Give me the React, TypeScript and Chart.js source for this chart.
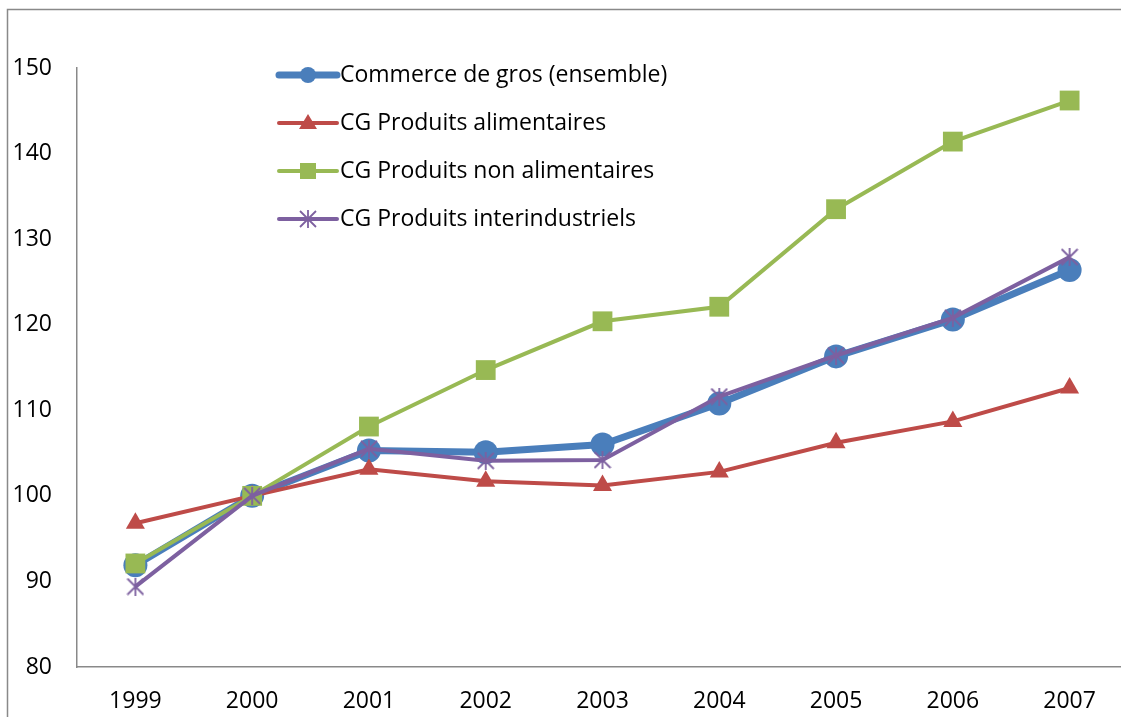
import React, { useEffect, useRef } from "react";
import { Chart, registerables } from "chart.js";

Chart.register(...registerables);

const years = ["1999", "2000", "2001", "2002", "2003", "2004", "2005", "2006", "2007"];
const ensemble = [91.9, 100, 105.3, 105.1, 106.0, 110.8, 116.3, 120.6, 126.4];
const alimentaires = [96.8, 100, 103.1, 101.7, 101.2, 102.8, 106.2, 108.7, 112.6];
const nonAlimentaires = [92.1, 100, 108.1, 114.7, 120.4, 122.1, 133.5, 141.4, 146.2];
const interindustriels = [89.4, 100, 105.5, 104.1, 104.2, 111.6, 116.4, 120.8, 127.9];
const seriesNames = [
  "Commerce de gros (ensemble)",
  "CG Produits alimentaires",
  "CG Produits non alimentaires",
  "CG Produits interindustriels",
];
const yMin = 80;
const yMax = 150;
const yStep = 10;

const BLUE = "#4A7EBB";
const RED = "#BE4B48";
const GREEN = "#98B954";
const PURPLE = "#7D60A0";
const AXIS = "#898989";
const FONT = "'Open Sans', 'Liberation Sans', sans-serif";

function makeStar(color: string, size: number) {
  const c = document.createElement("canvas");
  c.width = size;
  c.height = size;
  const ctx = c.getContext("2d")!;
  ctx.strokeStyle = color;
  ctx.lineWidth = 1.8;
  const m = 1;
  ctx.beginPath();
  ctx.moveTo(m, m);
  ctx.lineTo(size - m, size - m);
  ctx.moveTo(size - m, m);
  ctx.lineTo(m, size - m);
  ctx.moveTo(size / 2, 0);
  ctx.lineTo(size / 2, size);
  ctx.stroke();
  return c;
}

export default function App() {
  const ref = useRef<HTMLCanvasElement>(null);
  useEffect(() => {
    if (!ref.current) return;
    const star = makeStar(PURPLE, 18);
    const legendStar = makeStar(PURPLE, 18);

    const frame = {
      id: "frame",
      beforeDraw(chart: any) {
        const ctx = chart.ctx;
        ctx.save();
        ctx.fillStyle = "#ffffff";
        ctx.fillRect(0, 0, chart.width, chart.height);
        ctx.strokeStyle = AXIS;
        ctx.lineWidth = 1.5;
        ctx.beginPath();
        ctx.moveTo(7.5, chart.height + 5);
        ctx.lineTo(7.5, 9.5);
        ctx.lineTo(chart.width + 5, 9.5);
        ctx.stroke();
        ctx.restore();
      },
    };

    const legendPlugin = {
      id: "customLegend",
      afterDraw(chart: any) {
        const ctx = chart.ctx;
        const x0 = 279;
        const x1 = 337;
        const xm = 308;
        const rows = [75, 123, 171, 219];
        const specs = [
          { color: BLUE, width: 7, marker: "circle" },
          { color: RED, width: 4, marker: "triangle" },
          { color: GREEN, width: 4, marker: "square" },
          { color: PURPLE, width: 4, marker: "star" },
        ];
        ctx.save();
        specs.forEach((s, i) => {
          const y = rows[i];
          ctx.strokeStyle = s.color;
          ctx.fillStyle = s.color;
          ctx.lineWidth = s.width;
          ctx.lineCap = "round";
          ctx.beginPath();
          ctx.moveTo(x0, y);
          ctx.lineTo(x1, y);
          ctx.stroke();
          if (s.marker === "circle") {
            ctx.beginPath();
            ctx.arc(xm, y, 8, 0, Math.PI * 2);
            ctx.fill();
          } else if (s.marker === "triangle") {
            ctx.beginPath();
            ctx.moveTo(xm, y - 9);
            ctx.lineTo(xm + 9, y + 6);
            ctx.lineTo(xm - 9, y + 6);
            ctx.closePath();
            ctx.fill();
          } else if (s.marker === "square") {
            ctx.fillRect(xm - 8, y - 8, 16, 16);
          } else {
            ctx.drawImage(legendStar, xm - 9, y - 9);
          }
          ctx.fillStyle = "#000";
          ctx.font = `23px ${FONT}`;
          ctx.textBaseline = "middle";
          ctx.textAlign = "left";
          ctx.fillText(seriesNames[i], 340, y);
        });
        ctx.restore();
      },
    };

    const chart = new Chart(ref.current, {
      type: "line",
      data: {
        labels: years,
        datasets: [
          {
            label: seriesNames[0],
            data: ensemble,
            borderColor: BLUE,
            backgroundColor: BLUE,
            borderWidth: 7,
            pointStyle: "circle",
            pointRadius: 12,
            pointBorderWidth: 0,
            order: 4,
          },
          {
            label: seriesNames[1],
            data: alimentaires,
            borderColor: RED,
            backgroundColor: RED,
            borderWidth: 4,
            pointStyle: "triangle",
            pointRadius: 11,
            pointBorderWidth: 0,
            order: 3,
          },
          {
            label: seriesNames[2],
            data: nonAlimentaires,
            borderColor: GREEN,
            backgroundColor: GREEN,
            borderWidth: 4,
            pointStyle: "rect",
            pointRadius: 14,
            pointBorderWidth: 0,
            order: 2,
          },
          {
            label: seriesNames[3],
            data: interindustriels,
            borderColor: PURPLE,
            backgroundColor: PURPLE,
            borderWidth: 4,
            pointStyle: star as any,
            pointRadius: 9,
            order: 1,
          },
        ],
      },
      options: {
        animation: false,
        responsive: false,
        devicePixelRatio: 1,
        layout: { autoPadding: false, padding: { top: 68, left: 0, right: 0, bottom: 0 } },
        plugins: { legend: { display: false }, tooltip: { enabled: false } },
        elements: { line: { tension: 0 } },
        scales: {
          x: {
            offset: true,
            grid: { display: false, drawTicks: false },
            border: { display: true, color: AXIS, width: 1.5 },
            ticks: { color: "#000", font: { family: FONT, size: 23 }, padding: 21, maxRotation: 0 },
            afterFit: (s: any) => {
              s.height = 50;
              s.paddingLeft = 0;
              s.paddingRight = 0;
            },
          },
          y: {
            min: yMin,
            max: yMax,
            grid: { display: false, drawTicks: false },
            border: { display: true, color: AXIS, width: 1.5 },
            ticks: { stepSize: yStep, color: "#000", font: { family: FONT, size: 23 }, padding: 25 },
            afterFit: (s: any) => {
              s.width = 77;
            },
          },
        },
      },
      plugins: [frame, legendPlugin],
    });
    return () => chart.destroy();
  }, []);

  return (
    <div style={{ position: "fixed", left: 0, top: 0, width: 1121, height: 717, overflow: "hidden", background: "#fff" }}>
      <canvas ref={ref} width={1128} height={717} style={{ display: "block" }} />
    </div>
  );
}
